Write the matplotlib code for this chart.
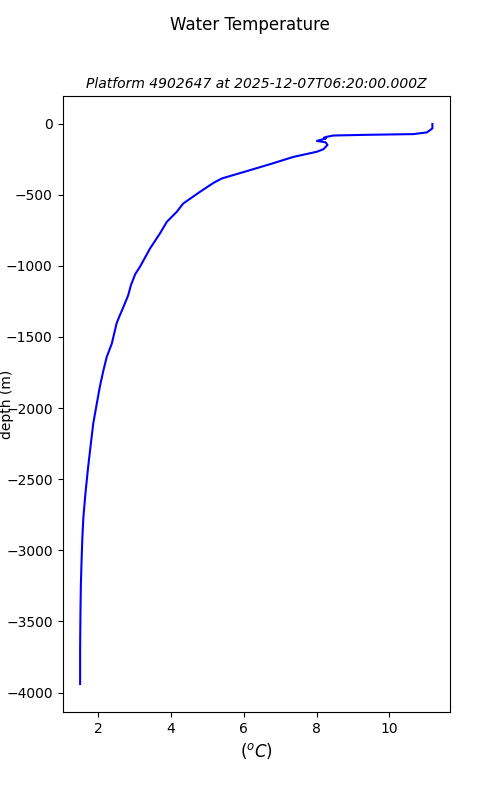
import numpy as np
import matplotlib.pyplot as plt

# temperature profile
temperature = [11.18, 11.18, 11.03, 10.66, 9.38, 8.46, 8.28, 8.20, 8.26, 8.01, 8.25,
               8.30, 8.19, 8.01, 7.37, 6.73, 6.18, 5.40, 5.17, 4.80, 4.71, 4.34,
               4.16, 3.89, 3.70, 3.43, 3.15, 3.02, 2.90, 2.83, 2.70, 2.58, 2.51,
               2.38, 2.24, 2.15, 2.05, 1.96, 1.87, 1.80, 1.73, 1.66, 1.60, 1.57,
               1.55, 1.53, 1.52, 1.51, 1.51]
depth = [-3, -34, -62, -74, -79, -84, -93, -100, -104, -122, -132,
         -150, -180, -198, -234, -285, -327, -386, -417, -480, -496, -562,
         -621, -691, -773, -878, -1008, -1060, -1140, -1207, -1289, -1360, -1406,
         -1547, -1641, -1735, -1852, -1980, -2110, -2260, -2415, -2590, -2767, -2920,
         -3072, -3250, -3424, -3700, -3940]

fig = plt.figure(figsize=(5, 8))
ax = fig.add_subplot(111)
ax.plot(temperature, depth, color="blue")
ax.set_title("Platform 4902647 at 2025-12-07T06:20:00.000Z", fontsize=10, style="italic")
ax.set_xlabel(r"($^oC$)", fontsize=12)
fig.text(0.0, 0.495, "depth (m)", rotation=90, ha="left", va="center", fontsize=10)
fig.suptitle("Water Temperature")
plt.savefig("out.png")
